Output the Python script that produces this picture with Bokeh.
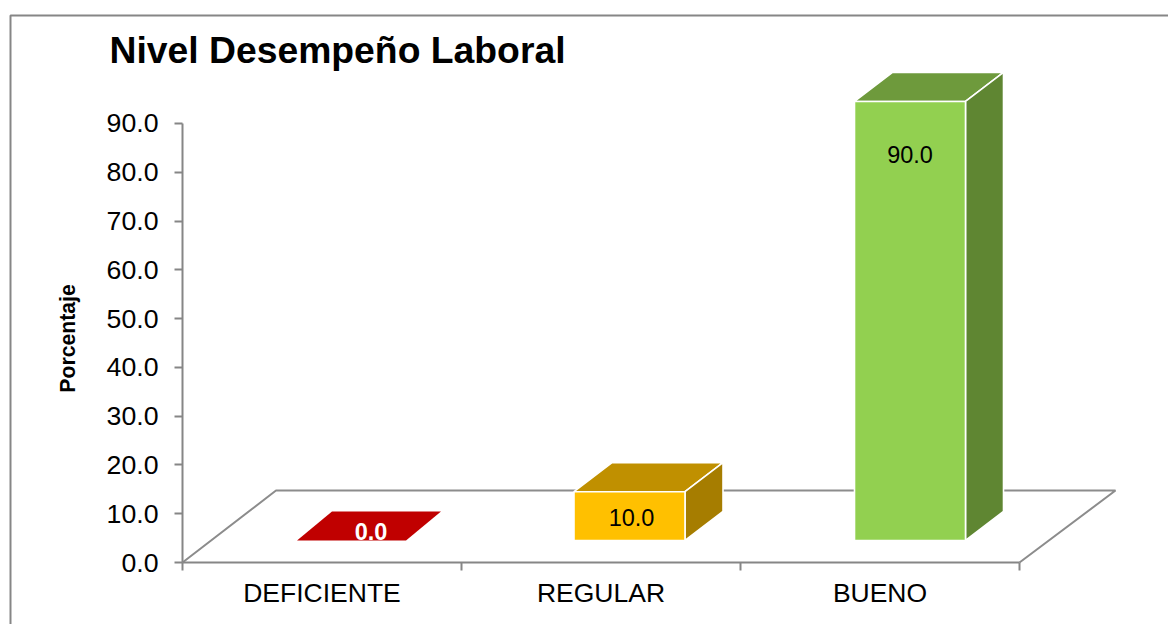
from bokeh.plotting import figure
from bokeh.models import Range1d, FixedTicker, Label, BoxAnnotation, ColumnDataSource
from bokeh.core.properties import value
from bokeh.embed import file_html
from bokeh.resources import INLINE
import math

# ---- data ----
categories = ["DEFICIENTE", "REGULAR", "BUENO"]
percentages = [0.0, 10.0, 90.0]
y_tick_values = [0, 10, 20, 30, 40, 50, 60, 70, 80, 90]
title_text = "Nivel Desempeño Laboral"
y_title = "Porcentaje"

# ---- style ----
FONT = "Liberation Sans"
GREY = "#868686"
front_colors = ["#C00000", "#FFC000", "#92D050"]
top_colors = ["#C00000", "#C09000", "#6E9A3C"]
side_colors = ["#C00000", "#A67D00", "#5F8632"]
label_colors = ["white", "black", "black"]
label_styles = ["bold", "normal", "normal"]

PX_X = 279.0    # pixels per category
PX_Y = 4.878    # pixels per percentage point
bar_w_px = [109, 111, 111]
front_dx_px = [29.5, 28.5, 30]
depth_dx_px = [35, 38, 38]
FRONT_DY = 22 / PX_Y          # bar base, above the floor's front edge
DEPTH_DY = 29 / PX_Y          # bar depth
FLOOR_LEFT_DX, FLOOR_RIGHT_DX = 93.5 / PX_X, 96 / PX_X
FLOOR_DY = 72 / PX_Y
label_dx = [19.5 / PX_X, 2 / PX_X, 0]
label_dy = [31 / PX_Y, -0.8, -6.4]

W, H = 1168, 624
LEFT, BOTTOM = 182, 62   # where the axes cross, in pixels from the left and the bottom

p = figure(width=W, height=H, output_backend="svg", toolbar_location=None,
           x_range=Range1d(-LEFT / PX_X, (W - LEFT) / PX_X),
           y_range=Range1d(-BOTTOM / PX_Y, (H - BOTTOM) / PX_Y),
           min_border=0,
           background_fill_color="white", border_fill_color="white",
           outline_line_color=None)
p.grid.visible = False

# y axis
ya = p.yaxis[0]
ya.fixed_location = 0
ya.ticker = FixedTicker(ticks=y_tick_values, minor_ticks=[])
ya.bounds = (y_tick_values[0], y_tick_values[-1])
ya.major_label_overrides = {v: f"{v:.1f}" for v in y_tick_values}
ya.major_tick_in, ya.major_tick_out = 0, 8
ya.minor_tick_line_color = None
ya.major_label_standoff = 16
ya.major_label_text_font = FONT
ya.major_label_text_font_size = "26.7px"
ya.major_label_text_color = "black"
ya.axis_line_color = GREY
ya.axis_line_width = 2
ya.major_tick_line_color = GREY
ya.major_tick_line_width = 2

# x axis: labels between the tick marks
n = len(categories)
xa = p.xaxis[0]
xa.fixed_location = 0
xa.ticker = FixedTicker(ticks=[i + 0.5 for i in range(n)], minor_ticks=list(range(n + 1)))
xa.bounds = (0, n)
xa.major_label_overrides = {i + 0.5: c for i, c in enumerate(categories)}
xa.major_tick_in, xa.major_tick_out = 0, 0
xa.major_tick_line_color = None
xa.minor_tick_in, xa.minor_tick_out = 0, 8
xa.minor_tick_line_color = GREY
xa.minor_tick_line_width = 2
xa.major_label_standoff = 7
xa.major_label_text_font = FONT
xa.major_label_text_font_size = "26.5px"
xa.major_label_text_color = "black"
xa.axis_line_color = GREY
xa.axis_line_width = 2

# floor in perspective
p.line([0, FLOOR_LEFT_DX, n + FLOOR_RIGHT_DX, n],
       [0, FLOOR_DY, FLOOR_DY, 0],
       line_color="#8C8C8C", line_width=2)

# 3D bars
front_x, front_y, top_x, top_y, side_x, side_y = [], [], [], [], [], []
for i, v in enumerate(percentages):
    w = bar_w_px[i] / PX_X
    ddx = depth_dx_px[i] / PX_X
    x0 = i + 0.5 + front_dx_px[i] / PX_X - w / 2
    x1 = x0 + w
    y0 = FRONT_DY
    y1 = y0 + v
    front_x.append([x0, x1, x1, x0]); front_y.append([y0, y0, y1, y1])
    top_x.append([x0, x1, x1 + ddx, x0 + ddx])
    top_y.append([y1, y1, y1 + DEPTH_DY, y1 + DEPTH_DY])
    side_x.append([x1, x1 + ddx, x1 + ddx, x1])
    side_y.append([y0, y0 + DEPTH_DY, y1 + DEPTH_DY, y1])

line_w = [0 if v == 0 else 1.6 for v in percentages]
p.patches(top_x, top_y, fill_color=top_colors, line_color="white", line_width=line_w)
p.patches(side_x, side_y, fill_color=side_colors, line_color="white", line_width=line_w)
keep = [i for i, v in enumerate(percentages) if v > 0]
p.patches([front_x[i] for i in keep], [front_y[i] for i in keep],
          fill_color=[front_colors[i] for i in keep], line_color="white", line_width=1.6)

# value labels
src = ColumnDataSource(dict(
    x=[i + 0.5 + front_dx_px[i] / PX_X + label_dx[i] for i in range(n)],
    y=[percentages[i] + label_dy[i] for i in range(n)],
    t=[f"{v:.1f}" for v in percentages],
    c=label_colors, s=label_styles))
p.text("x", "y", text="t", source=src, text_color="c", text_font_style="s",
       text_font=value(FONT), text_font_size="23.5px",
       text_align="center", text_baseline="middle")

# title, y title and chart frame
p.add_layout(Label(x=(109 - 182) / PX_X, y=(562 - 49) / PX_Y, text=title_text,
                   text_font=FONT, text_font_size="37.3px", text_font_style="bold",
                   text_color="black", text_align="left", text_baseline="alphabetic"))
p.add_layout(Label(x=(67 - 182) / PX_X, y=(562 - 338) / PX_Y, text=y_title, angle=math.pi / 2,
                   text_font=FONT, text_font_size="21.2px", text_font_style="bold",
                   text_color="black", text_align="center", text_baseline="alphabetic"))
p.add_layout(BoxAnnotation(left=(10 - 182) / PX_X, right=5, top=(562 - 15) / PX_Y, bottom=-30,
                           fill_alpha=0, line_color=GREY, line_alpha=1, line_width=2, level="underlay"))

open("out.html", "w").write(file_html(p, INLINE))
